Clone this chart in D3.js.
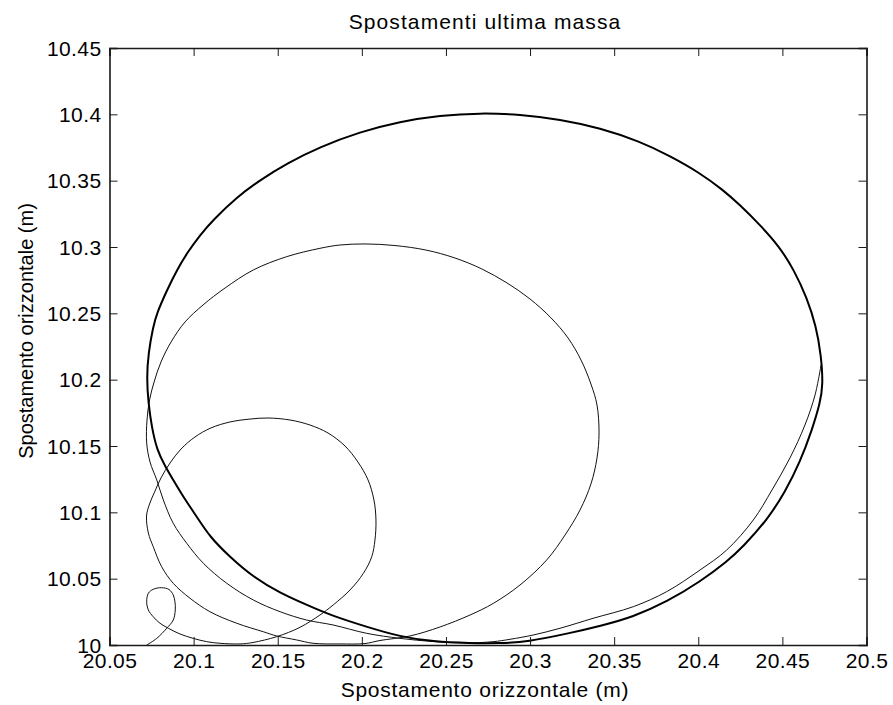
<!DOCTYPE html>
<html>
<head>
<meta charset="utf-8">
<script src="https://cdn.jsdelivr.net/npm/d3@7"></script>
<style>
  body { margin: 0; background: #fff; }
  text { font-family: "Liberation Sans", Arial, sans-serif; fill: #000; }
</style>
</head>
<body>
<div id="chart"></div>
<script>
// ticks
var xTicks = [20.05, 20.1, 20.15, 20.2, 20.25, 20.3, 20.35, 20.4, 20.45, 20.5];
var xTickLabels = ["20.05", "20.1", "20.15", "20.2", "20.25", "20.3", "20.35", "20.4", "20.45", "20.5"];
var yTicks = [10, 10.05, 10.1, 10.15, 10.2, 10.25, 10.3, 10.35, 10.4, 10.45];
var yTickLabels = ["10", "10.05", "10.1", "10.15", "10.2", "10.25", "10.3", "10.35", "10.4", "10.45"];

// transient: small loop -> loop 2 -> loop 3 -> into the orbit
var pathX = [20.0721, 20.0781, 20.0840, 20.0879, 20.0891, 20.0889, 20.0879, 20.0854, 20.0810, 20.0760,
  20.0731, 20.0721, 20.0731, 20.0760, 20.0800, 20.0850, 20.0919, 20.0998, 20.1078, 20.1157,
  20.1276, 20.1353, 20.1494, 20.1632, 20.1751, 20.1830, 20.1930, 20.2009, 20.2059, 20.2078,
  20.2084, 20.2072, 20.2037, 20.1977, 20.1900, 20.1799, 20.1692, 20.1573, 20.1442, 20.1335,
  20.1216, 20.1103, 20.1008, 20.0925, 20.0860, 20.0806, 20.0768, 20.0738, 20.0720, 20.0731,
  20.0760, 20.0810, 20.0879, 20.0979, 20.1097, 20.1256, 20.1414, 20.1494, 20.1613, 20.1710,
  20.1870, 20.2019, 20.2108, 20.2286, 20.2465, 20.2643, 20.2782, 20.2940, 20.3099, 20.3208,
  20.3297, 20.3362, 20.3398, 20.3410, 20.3398, 20.3362, 20.3303, 20.3226, 20.3125, 20.3000,
  20.2863, 20.2714, 20.2554, 20.2381, 20.2197, 20.2019, 20.1870, 20.1751, 20.1553, 20.1355,
  20.1187, 20.1056, 20.0949, 20.0866, 20.0806, 20.0765, 20.0738, 20.0723, 20.0721,
  20.0741, 20.0781, 20.0820, 20.0879, 20.0959, 20.1058, 20.1197, 20.1355, 20.1514, 20.1672,
  20.1829, 20.2029, 20.2227, 20.2423, 20.2613, 20.2780, 20.2881, 20.3018, 20.3178, 20.3374,
  20.3614, 20.3812, 20.4010, 20.4169, 20.4327, 20.4438, 20.4545, 20.4634, 20.4694, 20.4730];
var pathY = [10.0000, 10.0050, 10.0126, 10.0188, 10.0264, 10.0326, 10.0377, 10.0418, 10.0432, 10.0420,
  10.0390, 10.0326, 10.0264, 10.0213, 10.0164, 10.0126, 10.0083, 10.0050, 10.0025, 10.0013,
  10.0008, 10.0019, 10.0063, 10.0133, 10.0226, 10.0302, 10.0415, 10.0540, 10.0666, 10.0791,
  10.0942, 10.1093, 10.1244, 10.1379, 10.1500, 10.1598, 10.1658, 10.1696, 10.1711, 10.1703,
  10.1681, 10.1636, 10.1568, 10.1477, 10.1372, 10.1259, 10.1153, 10.1063, 10.0972, 10.0844,
  10.0741, 10.0590, 10.0465, 10.0352, 10.0251, 10.0164, 10.0100, 10.0068, 10.0038, 10.0013,
  10.0008, 10.0011, 10.0034, 10.0068, 10.0136, 10.0226, 10.0314, 10.0452, 10.0641, 10.0829,
  10.1018, 10.1214, 10.1410, 10.1598, 10.1809, 10.1967, 10.2148, 10.2314, 10.2465, 10.2608,
  10.2729, 10.2834, 10.2917, 10.2977, 10.3011, 10.3023, 10.3015, 10.2990, 10.2927, 10.2827,
  10.2691, 10.2563, 10.2435, 10.2284, 10.2133, 10.1982, 10.1847, 10.1696, 10.1523,
  10.1379, 10.1244, 10.1093, 10.0917, 10.0767, 10.0616, 10.0465, 10.0339, 10.0251, 10.0188,
  10.0151, 10.0088, 10.0050, 10.0026, 10.0015, 10.0025, 10.0043, 10.0075, 10.0126, 10.0201,
  10.0289, 10.0402, 10.0565, 10.0716, 10.0942, 10.1168, 10.1410, 10.1658, 10.1884, 10.2111];

// steady orbit (traced many times, so it shows thicker)
var orbitX = [20.4742, 20.4730, 20.4700, 20.4646, 20.4569, 20.4480, 20.4367, 20.4248, 20.4147, 20.4010,
  20.3832, 20.3654, 20.3416, 20.3178, 20.2940, 20.2702, 20.2465, 20.2227, 20.1989, 20.1751,
  20.1555, 20.1395, 20.1258, 20.1115, 20.1038, 20.0961, 20.0901, 20.0842, 20.0782, 20.0759,
  20.0731, 20.0721, 20.0731, 20.0751, 20.0782, 20.0830, 20.0879, 20.0939, 20.1020, 20.1097,
  20.1216, 20.1353, 20.1514, 20.1674, 20.1811, 20.2031, 20.2227, 20.2423, 20.2643, 20.2821,
  20.2982, 20.3238, 20.3416, 20.3612, 20.3814, 20.4010, 20.4171, 20.4266, 20.4409, 20.4516,
  20.4605, 20.4676, 20.4724];
var orbitY = [10.1960, 10.2186, 10.2405, 10.2616, 10.2827, 10.3007, 10.3166, 10.3317, 10.3430, 10.3558,
  10.3686, 10.3795, 10.3897, 10.3961, 10.3999, 10.4010, 10.3992, 10.3946, 10.3868, 10.3755,
  10.3631, 10.3505, 10.3377, 10.3203, 10.3090, 10.2955, 10.2827, 10.2676, 10.2503, 10.2397,
  10.2201, 10.2013, 10.1824, 10.1643, 10.1470, 10.1349, 10.1244, 10.1116, 10.0965, 10.0814,
  10.0663, 10.0513, 10.0392, 10.0302, 10.0226, 10.0136, 10.0063, 10.0025, 10.0013, 10.0013,
  10.0023, 10.0090, 10.0143, 10.0211, 10.0326, 10.0477, 10.0628, 10.0741, 10.0942, 10.1153,
  10.1379, 10.1621, 10.1824];

var width = 893, height = 705;
var margin = {top: 48, right: 26.5, bottom: 60, left: 109.5};

var svg = d3.select("#chart").append("svg")
    .attr("width", width)
    .attr("height", height);

svg.append("rect")
    .attr("width", width)
    .attr("height", height)
    .attr("fill", "#fff");

var x = d3.scaleLinear().domain([20.05, 20.5]).range([margin.left, width - margin.right]);
var y = d3.scaleLinear().domain([10, 10.45]).range([height - margin.bottom, margin.top]);

var pathData = pathX.map(function(v, i) { return [v, pathY[i]]; });
var orbitData = orbitX.map(function(v, i) { return [v, orbitY[i]]; });

var plot = svg.append("g");

plot.append("path")
    .datum(pathData)
    .attr("fill", "none")
    .attr("stroke", "#111")
    .attr("stroke-width", 1)
    .attr("d", d3.line()
        .x(function(d) { return x(d[0]); })
        .y(function(d) { return y(d[1]); })
        .curve(d3.curveCatmullRom.alpha(0.5)));

plot.append("path")
    .datum(orbitData)
    .attr("fill", "none")
    .attr("stroke", "#000")
    .attr("stroke-width", 2)
    .attr("d", d3.line()
        .x(function(d) { return x(d[0]); })
        .y(function(d) { return y(d[1]); })
        .curve(d3.curveBasisClosed));

// axes, ticks pointing inwards on all four sides
var tickLen = 8;
var fmtX = function(d, i) { return xTickLabels[i]; };
var fmtY = function(d, i) { return yTickLabels[i]; };

var xAxis = svg.append("g")
    .attr("transform", "translate(0," + y(10) + ")")
    .call(d3.axisBottom(x).tickValues(xTicks).tickSize(-tickLen).tickPadding(8).tickFormat(fmtX));
svg.append("g")
    .attr("transform", "translate(0," + y(10.45) + ")")
    .call(d3.axisTop(x).tickValues(xTicks).tickSize(-tickLen).tickFormat(""));
var yAxis = svg.append("g")
    .attr("transform", "translate(" + x(20.05) + ",0)")
    .call(d3.axisLeft(y).tickValues(yTicks).tickSize(-tickLen).tickPadding(8).tickFormat(fmtY));
svg.append("g")
    .attr("transform", "translate(" + x(20.5) + ",0)")
    .call(d3.axisRight(y).tickValues(yTicks).tickSize(-tickLen).tickFormat(""));

svg.selectAll(".domain").attr("stroke", "#1a1a1a").attr("stroke-width", 1.6);
svg.selectAll(".tick line").attr("stroke", "#1a1a1a");
svg.selectAll(".tick text")
    .style("font-family", "'Liberation Sans', Arial, sans-serif")
    .style("font-size", "21px")
    .style("letter-spacing", "0.4px")
    .attr("fill", "#000");
xAxis.selectAll(".tick text").attr("dy", "0.72em");
yAxis.selectAll(".tick text").attr("dy", "0.34em");

// title and labels
svg.append("text")
    .attr("x", 485)
    .attr("y", 29)
    .attr("text-anchor", "middle")
    .style("font-size", "21px")
    .style("letter-spacing", "1.1px")
    .text("Spostamenti ultima massa");

svg.append("text")
    .attr("x", 485)
    .attr("y", 697)
    .attr("text-anchor", "middle")
    .style("font-size", "21px")
    .style("letter-spacing", "0.75px")
    .text("Spostamento orizzontale (m)");

svg.append("text")
    .attr("transform", "translate(33,331)rotate(-90)")
    .attr("text-anchor", "middle")
    .style("font-size", "20px")
    .text("Spostamento orizzontale (m)");
</script>
</body>
</html>
